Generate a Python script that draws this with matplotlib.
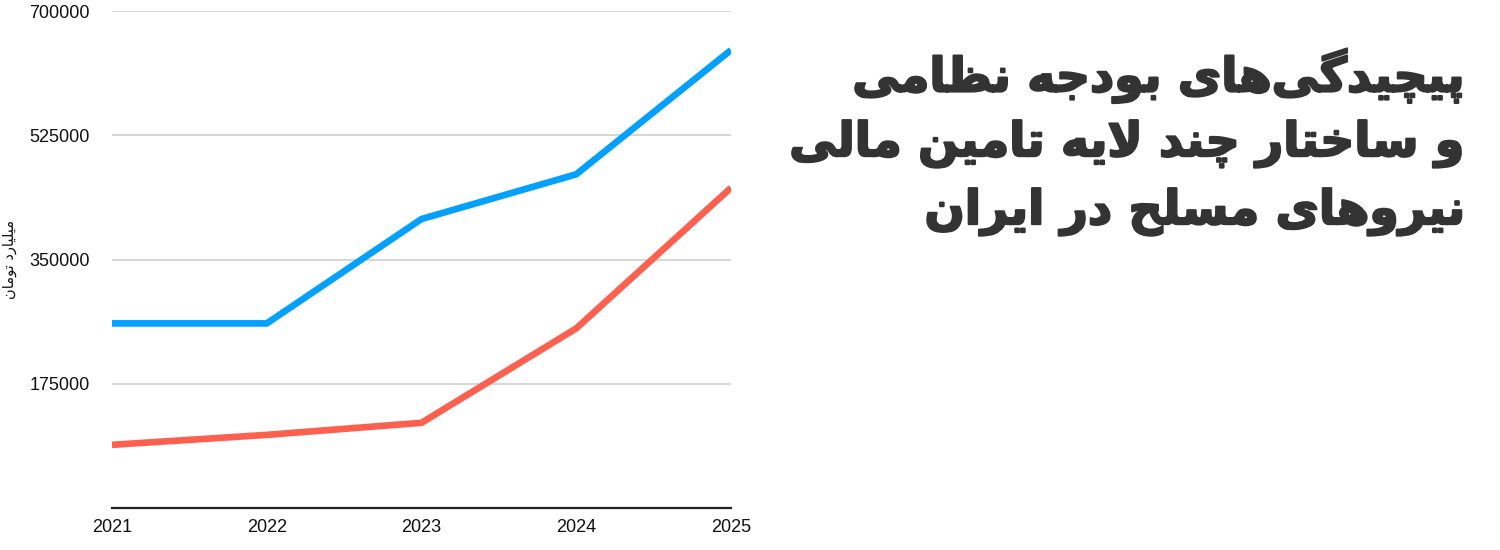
import matplotlib
matplotlib.use("Agg")
import matplotlib.pyplot as plt
import matplotlib.patheffects as pe
from matplotlib import font_manager
from matplotlib.ft2font import FT2Font

years = [2021, 2022, 2023, 2024, 2025]
series_blue = [260000, 260000, 407000, 470000, 645000]
series_red = [89000, 103000, 120000, 253000, 451000]
yticks = [175000, 350000, 525000, 700000]
title_lines = ["پیچیدگی‌های بودجه نظامی",
               "و ساختار چند لایه تامین مالی",
               "نیروهای مسلح در ایران"]
ylabel_text = "میلیارد تومان"

# ---- minimal Persian shaping (presentation forms + visual order) ----
FORMS = {
    'ا': (0xFE8D, 0xFE8E, None, None),
    'ب': (0xFE8F, 0xFE90, 0xFE91, 0xFE92),
    'ت': (0xFE95, 0xFE96, 0xFE97, 0xFE98),
    'ج': (0xFE9D, 0xFE9E, 0xFE9F, 0xFEA0),
    'ح': (0xFEA1, 0xFEA2, 0xFEA3, 0xFEA4),
    'خ': (0xFEA5, 0xFEA6, 0xFEA7, 0xFEA8),
    'د': (0xFEA9, 0xFEAA, None, None),
    'ر': (0xFEAD, 0xFEAE, None, None),
    'س': (0xFEB1, 0xFEB2, 0xFEB3, 0xFEB4),
    'ظ': (0xFEC5, 0xFEC6, 0xFEC7, 0xFEC8),
    'ل': (0xFEDD, 0xFEDE, 0xFEDF, 0xFEE0),
    'م': (0xFEE1, 0xFEE2, 0xFEE3, 0xFEE4),
    'ن': (0xFEE5, 0xFEE6, 0xFEE7, 0xFEE8),
    'ه': (0xFEE9, 0xFEEA, 0xFEEB, 0xFEEC),
    'و': (0xFEED, 0xFEEE, None, None),
    'پ': (0xFB56, 0xFB57, 0xFB58, 0xFB59),
    'چ': (0xFB7A, 0xFB7B, 0xFB7C, 0xFB7D),
    'گ': (0xFB92, 0xFB93, 0xFB94, 0xFB95),
    'ی': (0xFBFC, 0xFBFD, 0xFBFE, 0xFBFF),
}
LAM_ALEF = (0xFEFB, 0xFEFC)


def shape(text):
    chars = list(text)
    units = []
    i = 0
    while i < len(chars):
        c = chars[i]
        if c == 'ل' and i + 1 < len(chars) and chars[i + 1] == 'ا':
            units.append('LA')
            i += 2
        else:
            units.append(c)
            i += 1

    def joins_left(u):
        if u == 'LA':
            return False
        f = FORMS.get(u)
        return f is not None and f[2] is not None

    def joins_right(u):
        return u == 'LA' or u in FORMS

    out = []
    for k, u in enumerate(units):
        prev = units[k - 1] if k > 0 else None
        nxt = units[k + 1] if k + 1 < len(units) else None
        if u == '\u200c':
            continue
        cp = prev is not None and joins_left(prev) and joins_right(u)
        cn = nxt is not None and joins_left(u) and joins_right(nxt)
        if u == 'LA':
            out.append(chr(LAM_ALEF[1] if cp else LAM_ALEF[0]))
            continue
        if u not in FORMS:
            out.append(u)
            continue
        iso, fin, ini, med = FORMS[u]
        if cp and cn:
            g = med
        elif cp:
            g = fin
        elif cn:
            g = ini
        else:
            g = iso
        out.append(chr(g))
    return ''.join(out[::-1])


def has_glyphs(path, text):
    f = FT2Font(path)
    return all(f.get_char_index(ord(c)) != 0 for c in text)


sample = ''.join(shape(t) for t in title_lines)
bold_path = font_manager.findfont(font_manager.FontProperties(family='DejaVu Sans', weight='bold'))
title_weight = 'bold' if has_glyphs(bold_path, sample) else 'normal'

fig = plt.figure(figsize=(15, 5.5), dpi=100)
ax = fig.add_axes([112 / 1500, 1 - 508 / 550, (731 - 112) / 1500, (508 - 11) / 550])

ax.plot(years, series_blue, color='#03A0FE', lw=4.8, solid_joinstyle='miter', solid_capstyle='butt', zorder=3)
ax.plot(years, series_red, color='#FE6050', lw=4.8, solid_joinstyle='miter', solid_capstyle='butt', zorder=3)

ax.set_xlim(2021, 2025)
ax.set_ylim(0, 700000)
ax.set_xticks(years)
ax.set_xticklabels([str(y) for y in years])
ax.set_yticks(yticks)
ax.set_yticklabels([str(v) for v in yticks])
for lab in ax.get_xticklabels() + ax.get_yticklabels():
    lab.set_fontfamily('Liberation Sans')
    lab.set_fontsize(13)
    lab.set_color('#111111')
ax.tick_params(axis='both', length=0)
ax.tick_params(axis='y', pad=16)
ax.tick_params(axis='x', pad=8)
ax.grid(axis='y', color='#CCCCCC', lw=1.1, zorder=0)
for s in ['top', 'right', 'left']:
    ax.spines[s].set_visible(False)
ax.spines['bottom'].set_color('#222222')
ax.spines['bottom'].set_linewidth(1.6)

fig.text(10 / 1500, 1 - 259 / 550, shape(ylabel_text), rotation=90, ha='center', va='center',
         fontsize=10.5, family=['DejaVu Sans'], color='#111111')

y0 = 76
for i, line in enumerate(title_lines):
    fig.text(1465 / 1500, 1 - (y0 + i * 68) / 550, shape(line), ha='right', va='center',
             fontsize=34, fontweight=title_weight, family=['DejaVu Sans'], color='#333333',
             path_effects=[pe.withStroke(linewidth=1.6, foreground='#333333')])

fig.savefig('out.png', dpi=100)
